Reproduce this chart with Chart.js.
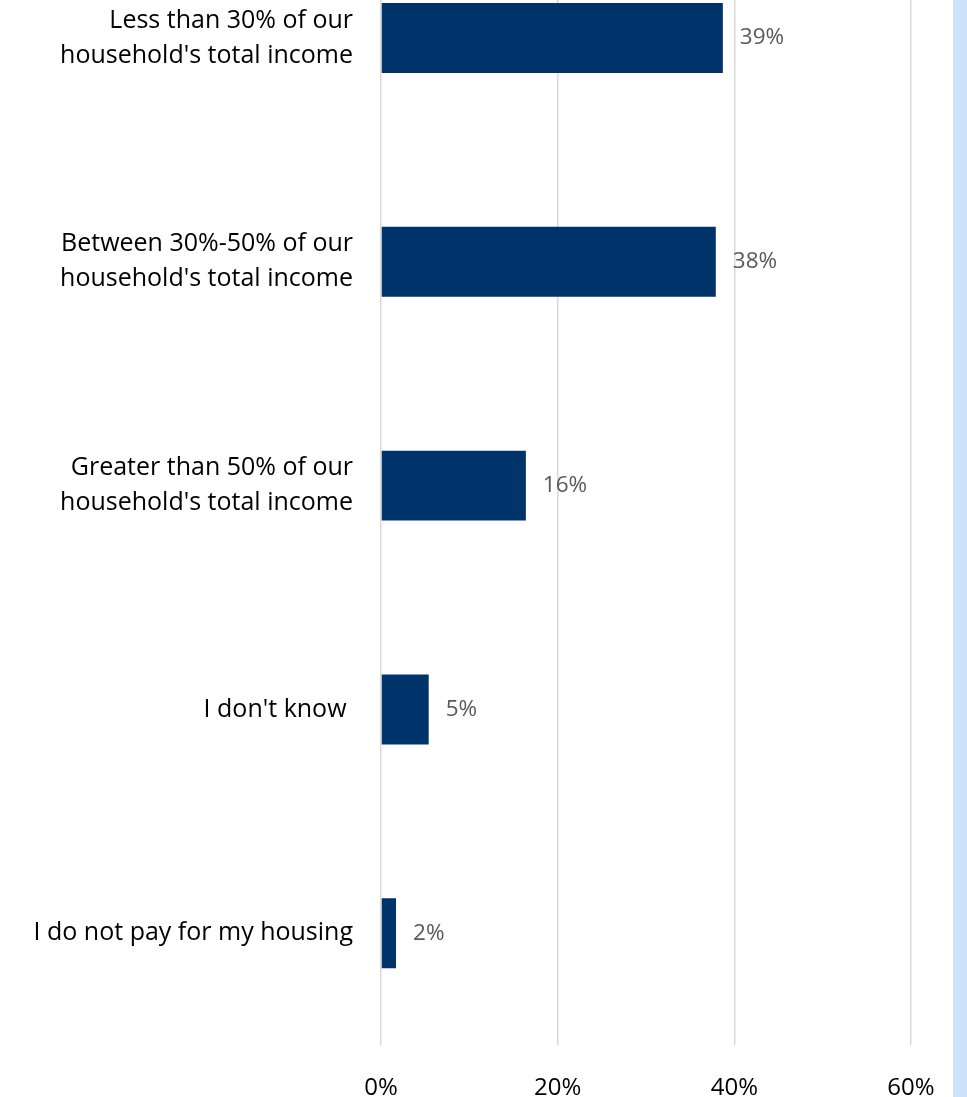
<!DOCTYPE html>
<html>
<head>
<meta charset="utf-8">
<script src="https://cdn.jsdelivr.net/npm/chart.js@4"></script>
<style>
  html, body { margin: 0; padding: 0; background: #fff; overflow: hidden; }
  #wrap { position: absolute; left: 0; top: -74px; width: 967px; height: 1205px; }
  #strip { position: absolute; left: 953px; top: 0; width: 14px; height: 1097px; background: #cfe2fb; }
</style>
</head>
<body>
<div id="wrap"><canvas id="chart"></canvas></div>
<div id="strip"></div>
<script>
// categories and values (percent of respondents)
const categories = [
  ["Less than 30% of our", "household's total income"],
  ["Between 30%-50% of our", "household's total income"],
  ["Greater than 50% of our", "household's total income"],
  "I don't know ",
  "I do not pay for my housing",
];
const values = [38.7, 37.9, 16.4, 5.4, 1.7];
const shownLabels = ["39%", "38%", "16%", "5%", "2%"];
const xTicks = [0, 20, 40, 60];

const FONT = "'Open Sans', 'Noto Sans', sans-serif";

// draw value labels at end of each bar
const valueLabels = {
  id: "valueLabels",
  afterDatasetsDraw(chart) {
    const ctx = chart.ctx;
    const meta = chart.getDatasetMeta(0);
    ctx.save();
    ctx.font = "22.5px " + FONT;
    ctx.fillStyle = "#595959";
    ctx.textAlign = "left";
    ctx.textBaseline = "middle";
    meta.data.forEach((bar, i) => {
      ctx.fillText(shownLabels[i], bar.x + 17, bar.y);
    });
    ctx.restore();
  },
};

const ctx = document.getElementById("chart").getContext("2d");
new Chart(ctx, {
  type: "bar",
  data: {
    labels: categories,
    datasets: [
      {
        data: values,
        backgroundColor: "#00336a",
        borderWidth: 0,
        categoryPercentage: 1,
        barPercentage: 0.3125,
      },
    ],
  },
  options: {
    indexAxis: "y",
    responsive: true,
    maintainAspectRatio: false,
    animation: false,
    layout: { padding: { left: 0, right: 56, top: 0, bottom: 0 } },
    plugins: {
      legend: { display: false },
      tooltip: { enabled: false },
    },
    scales: {
      x: {
        min: 0,
        max: 60,
        afterBuildTicks: (scale) => {
          scale.ticks = xTicks.map((v) => ({ value: v }));
        },
        grid: { color: "#d9d9d9", lineWidth: 1.5, drawTicks: false },
        border: { display: false },
        ticks: {
          padding: 28.5,
          color: "#000",
          font: { family: FONT, size: 24 },
          callback: (v) => v + "%",
        },
      },
      y: {
        grid: { display: false, drawTicks: false },
        border: { display: false },
        afterFit: (scale) => {
          scale.width = 381;
          scale.paddingTop = 0;
          scale.paddingBottom = 0;
        },
        ticks: {
          padding: 28,
          color: "#000",
          font: { family: FONT, size: 25, lineHeight: 1.4 },
        },
      },
    },
  },
  plugins: [valueLabels],
});
</script>
</body>
</html>
